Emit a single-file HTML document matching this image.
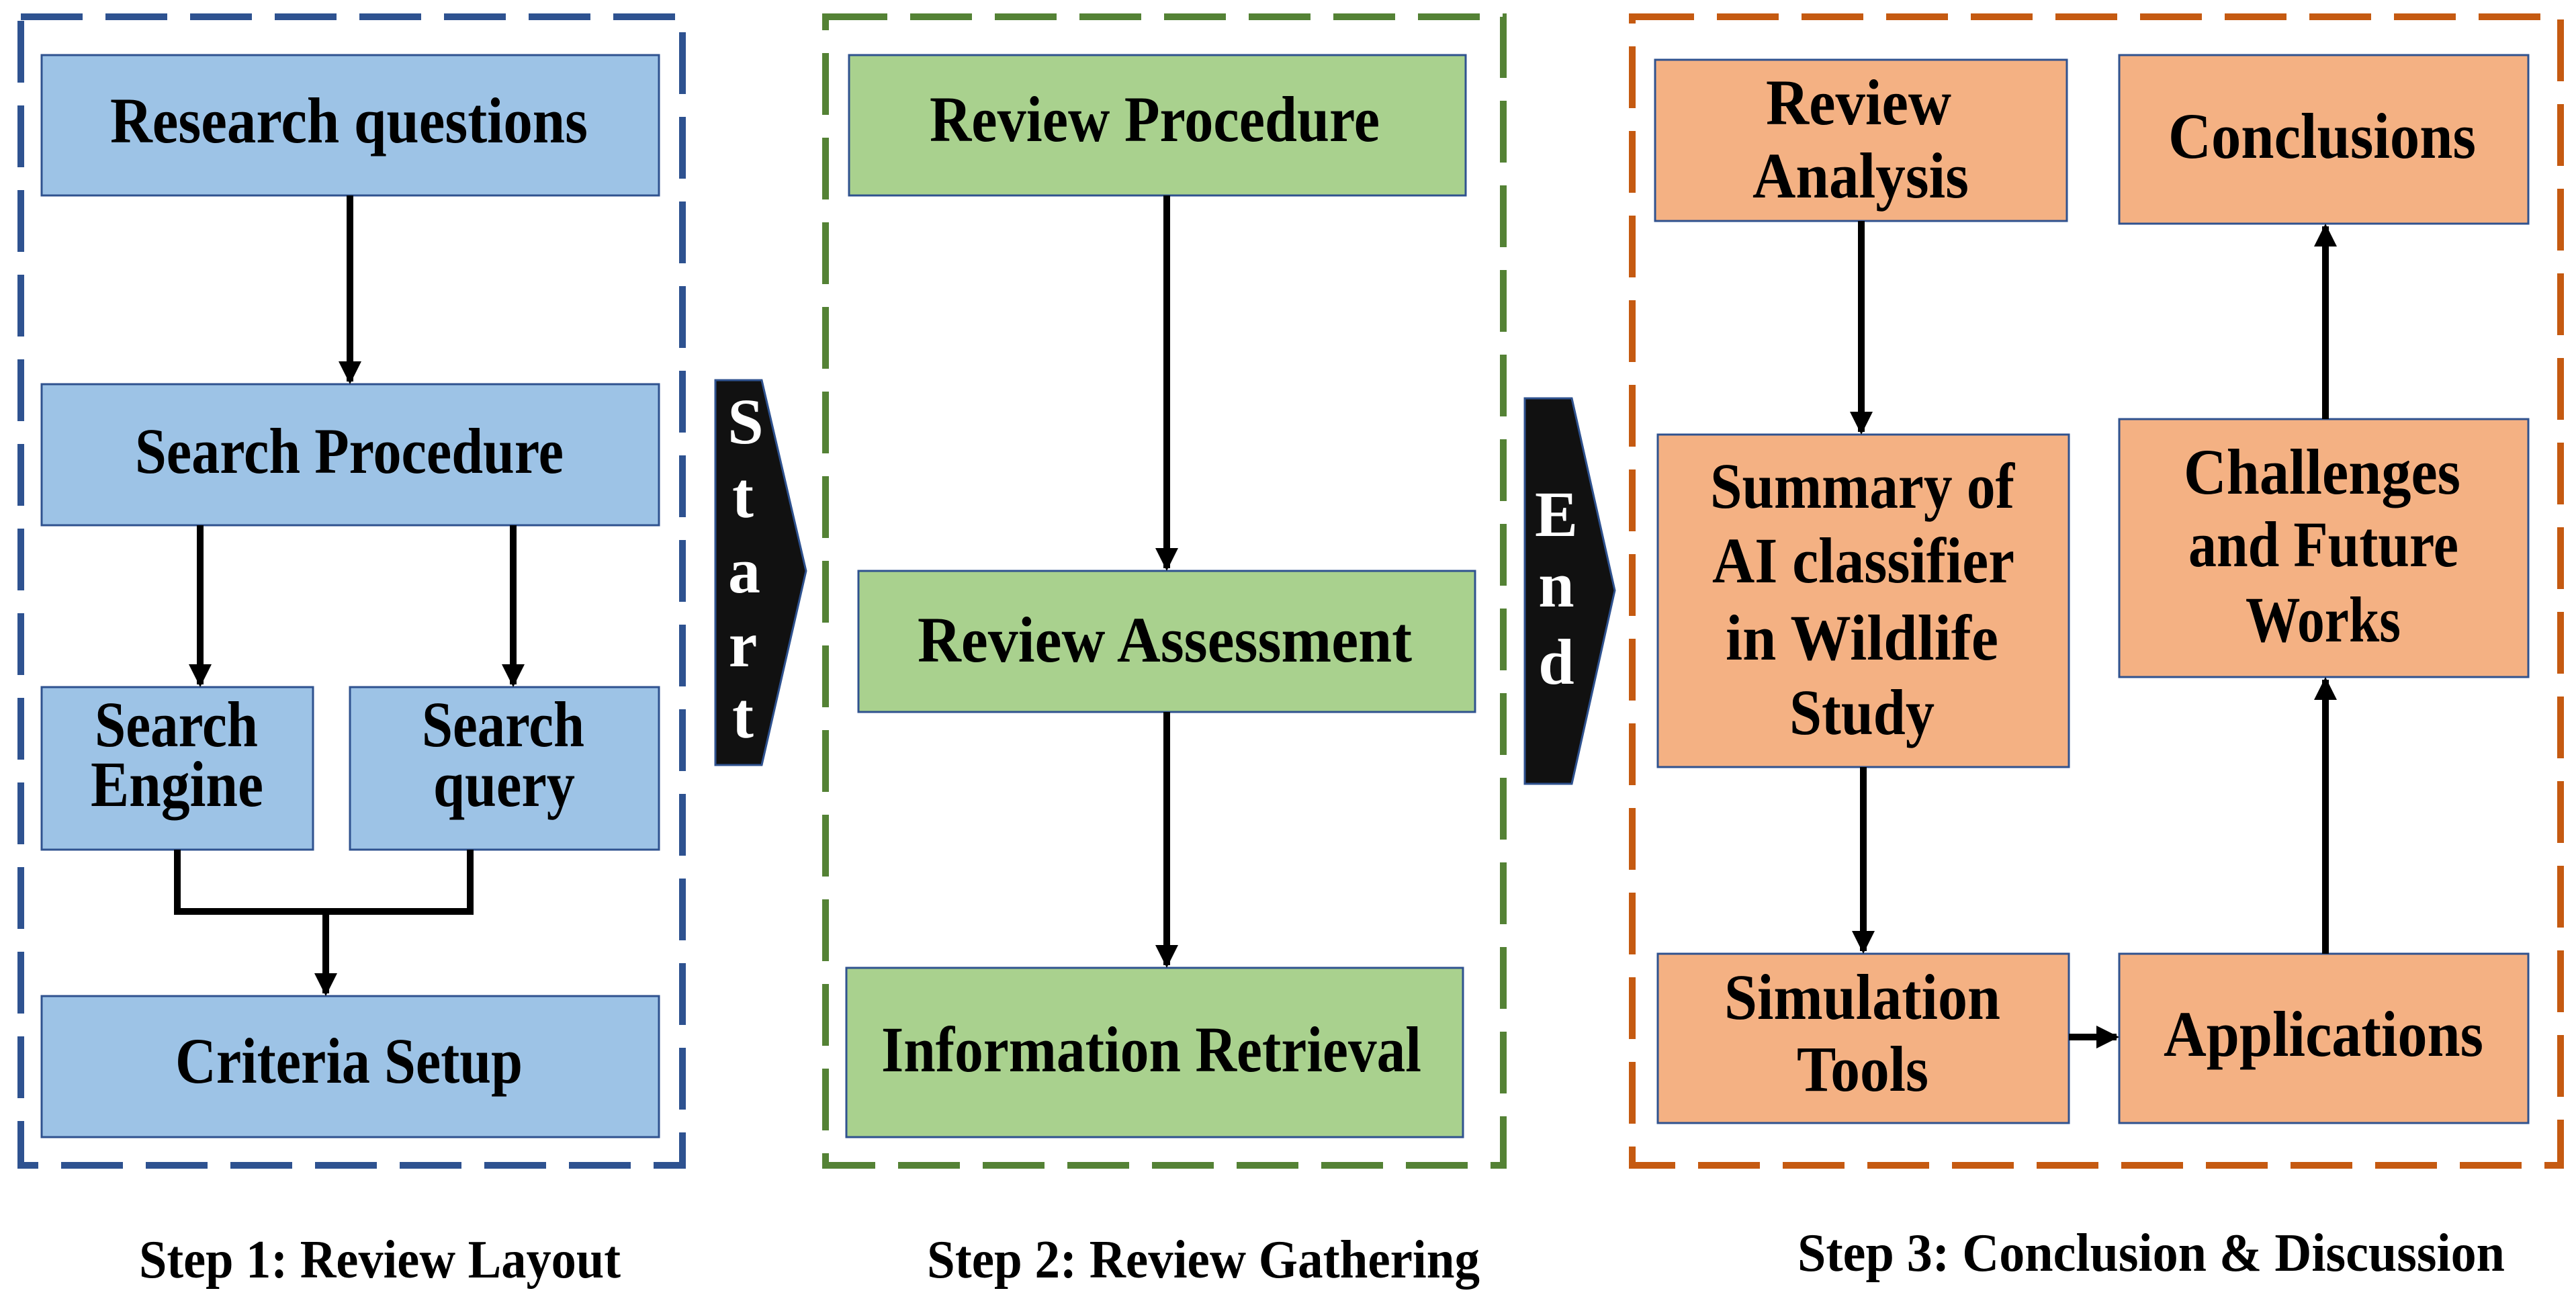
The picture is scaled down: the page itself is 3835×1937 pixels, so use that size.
<!DOCTYPE html>
<html><head><meta charset="utf-8"><style>html,body{margin:0;padding:0;background:#fff}svg{display:block}</style></head><body>
<svg width="3835" height="1937" viewBox="0 0 3835 1937" xmlns="http://www.w3.org/2000/svg" font-family="'Liberation Serif', serif" font-weight="bold" font-size="96" fill="#000">
<defs>
<marker id="ah" markerWidth="3.4" markerHeight="3.4" refX="3" refY="1.7" orient="auto" markerUnits="strokeWidth"><path d="M0,0 L3.4,1.7 L0,3.4 Z" fill="#000"/></marker>
</defs>
<rect x="31" y="25" width="985" height="1710" fill="none" stroke="#2e5290" stroke-width="10" stroke-dasharray="92,34"/>
<rect x="1229" y="25" width="1009" height="1710" fill="none" stroke="#548235" stroke-width="10" stroke-dasharray="92,34"/>
<rect x="2430" y="25" width="1382" height="1710" fill="none" stroke="#c55a11" stroke-width="10" stroke-dasharray="92,34"/>
<g stroke="#2f528f" stroke-width="3">
<rect x="62" y="82" width="919" height="209" fill="#9dc3e6"/>
<rect x="62" y="572" width="919" height="210" fill="#9dc3e6"/>
<rect x="62" y="1023" width="404" height="242" fill="#9dc3e6"/>
<rect x="521" y="1023" width="460" height="242" fill="#9dc3e6"/>
<rect x="62" y="1483" width="919" height="210" fill="#9dc3e6"/>
<rect x="1264" y="82" width="918" height="209" fill="#a9d18e"/>
<rect x="1278" y="850" width="918" height="210" fill="#a9d18e"/>
<rect x="1260" y="1441" width="918" height="252" fill="#a9d18e"/>
<rect x="2464" y="89" width="613" height="240" fill="#f4b183"/>
<rect x="3155" y="82" width="609" height="251" fill="#f4b183"/>
<rect x="2468" y="647" width="612" height="495" fill="#f4b183"/>
<rect x="3155" y="624" width="609" height="384" fill="#f4b183"/>
<rect x="2468" y="1420" width="612" height="252" fill="#f4b183"/>
<rect x="3155" y="1420" width="609" height="252" fill="#f4b183"/>
<path d="M1065,566 L1134,566 L1200,850 L1134,1139 L1065,1139 Z" fill="#111"/>
<path d="M2270,593 L2340,593 L2404,879 L2340,1167 L2270,1167 Z" fill="#111"/>
</g>
<g stroke="#000" stroke-width="10" fill="none">
<line x1="521" y1="291" x2="521" y2="568" marker-end="url(#ah)"/>
<line x1="298" y1="782" x2="298" y2="1019" marker-end="url(#ah)"/>
<line x1="764" y1="782" x2="764" y2="1019" marker-end="url(#ah)"/>
<path d="M264,1265 V1357 H700 V1265"/>
<line x1="485" y1="1357" x2="485" y2="1479" marker-end="url(#ah)"/>
<line x1="1737" y1="291" x2="1737" y2="846" marker-end="url(#ah)"/>
<line x1="1737" y1="1060" x2="1737" y2="1437" marker-end="url(#ah)"/>
<line x1="2771" y1="329" x2="2771" y2="643" marker-end="url(#ah)"/>
<line x1="2774" y1="1142" x2="2774" y2="1416" marker-end="url(#ah)"/>
<line x1="3080" y1="1544" x2="3151" y2="1544" marker-end="url(#ah)"/>
<line x1="3462" y1="1420" x2="3462" y2="1012" marker-end="url(#ah)"/>
<line x1="3462" y1="624" x2="3462" y2="337" marker-end="url(#ah)"/>
</g>
<g>
<text x="164" y="212" textLength="711" lengthAdjust="spacingAndGlyphs">Research questions</text>
<text x="201" y="704" textLength="638" lengthAdjust="spacingAndGlyphs">Search Procedure</text>
<text x="141" y="1111" textLength="243" lengthAdjust="spacingAndGlyphs">Search</text>
<text x="135" y="1200" textLength="257" lengthAdjust="spacingAndGlyphs">Engine</text>
<text x="628" y="1111" textLength="242" lengthAdjust="spacingAndGlyphs">Search</text>
<text x="645" y="1200" textLength="211" lengthAdjust="spacingAndGlyphs">query</text>
<text x="261" y="1612" textLength="517" lengthAdjust="spacingAndGlyphs">Criteria Setup</text>
<text x="1384" y="210" textLength="670" lengthAdjust="spacingAndGlyphs">Review Procedure</text>
<text x="1366" y="985" textLength="736" lengthAdjust="spacingAndGlyphs">Review Assessment</text>
<text x="1312" y="1595" textLength="804" lengthAdjust="spacingAndGlyphs">Information Retrieval</text>
<text x="2629" y="185" textLength="276" lengthAdjust="spacingAndGlyphs">Review</text>
<text x="2609" y="294" textLength="322" lengthAdjust="spacingAndGlyphs">Analysis</text>
<text x="3228" y="235" textLength="458" lengthAdjust="spacingAndGlyphs">Conclusions</text>
<text x="2546" y="756" textLength="453" lengthAdjust="spacingAndGlyphs">Summary of</text>
<text x="2549" y="867" textLength="450" lengthAdjust="spacingAndGlyphs">AI classifier</text>
<text x="2569" y="982" textLength="406" lengthAdjust="spacingAndGlyphs">in Wildlife</text>
<text x="2664" y="1093" textLength="216" lengthAdjust="spacingAndGlyphs">Study</text>
<text x="3251" y="735" textLength="412" lengthAdjust="spacingAndGlyphs">Challenges</text>
<text x="3258" y="843" textLength="402" lengthAdjust="spacingAndGlyphs">and Future</text>
<text x="3343" y="955" textLength="231" lengthAdjust="spacingAndGlyphs">Works</text>
<text x="2567" y="1517" textLength="411" lengthAdjust="spacingAndGlyphs">Simulation</text>
<text x="2675" y="1624" textLength="196" lengthAdjust="spacingAndGlyphs">Tools</text>
<text x="3221" y="1572" textLength="476" lengthAdjust="spacingAndGlyphs">Applications</text>
</g>
<g fill="#fff" font-size="96" text-anchor="middle">
<text x="1110" y="660">S</text>
<text x="1106" y="770">t</text>
<text x="1108" y="882">a</text>
<text x="1106" y="992">r</text>
<text x="1106" y="1098">t</text>
<text x="2317" y="798">E</text>
<text x="2317" y="903">n</text>
<text x="2317" y="1018">d</text>
</g>
<g font-size="80">
<text x="207" y="1902" textLength="717" lengthAdjust="spacingAndGlyphs">Step 1: Review Layout</text>
<text x="1380" y="1902" textLength="823" lengthAdjust="spacingAndGlyphs">Step 2: Review Gathering</text>
<text x="2676" y="1892" textLength="1053" lengthAdjust="spacingAndGlyphs">Step 3: Conclusion &amp; Discussion</text>
</g>
</svg>
</body></html>
